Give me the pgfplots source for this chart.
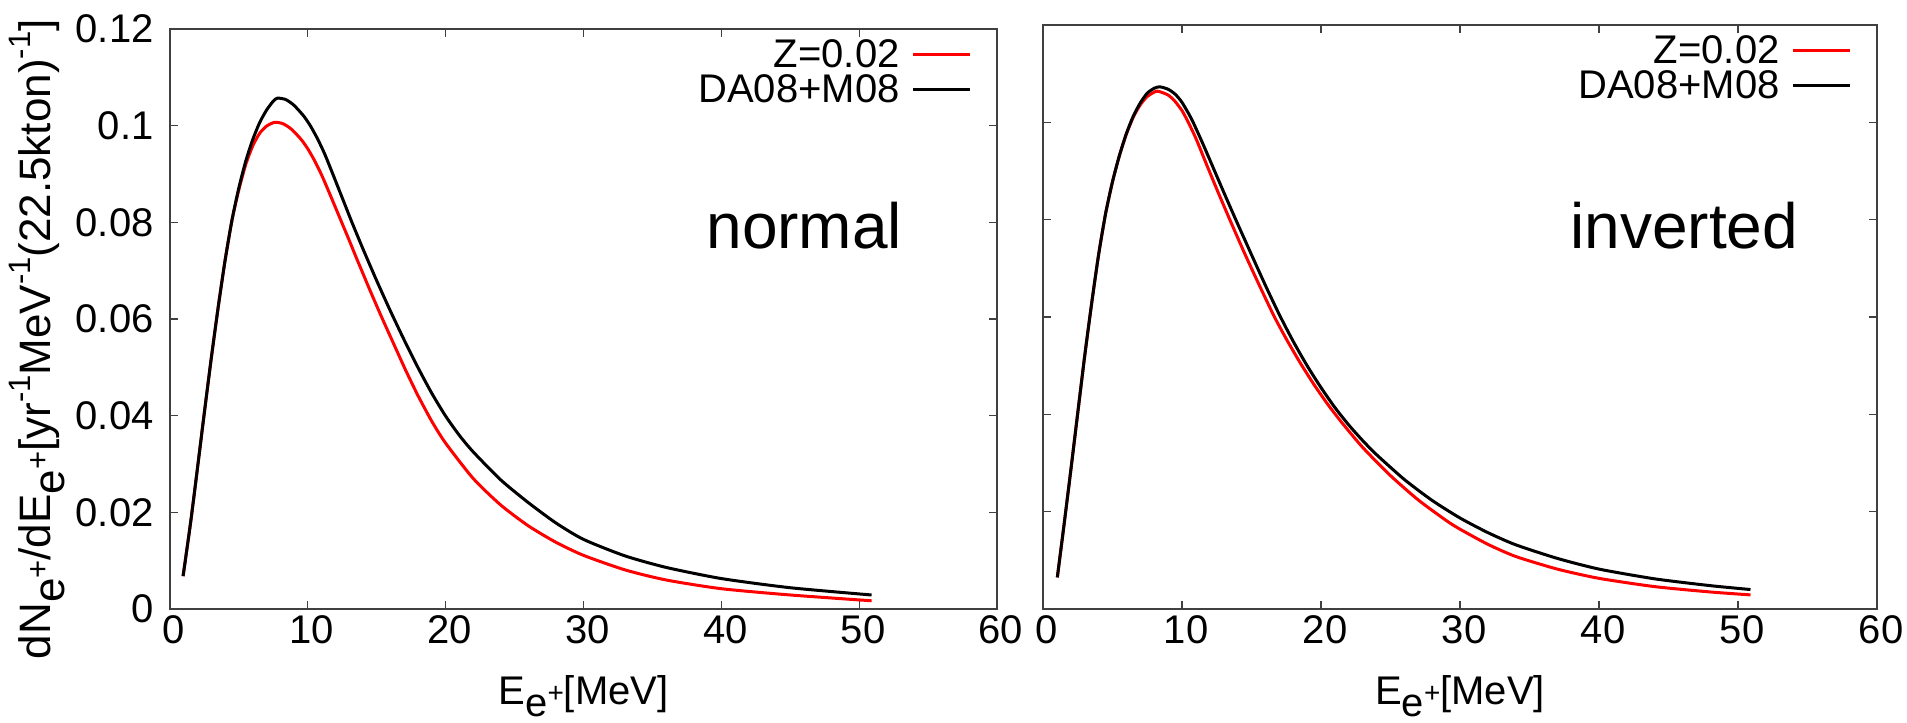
\documentclass[border=0pt]{standalone}
\usepackage{pgfplots}
\pgfplotsset{compat=1.18}
\usepackage{fontspec}
\setmainfont{Liberation Sans}
\newcommand{\ep}{\raisebox{-0.3em}{e\raisebox{0.33em}{\fontsize{14}{14}\selectfont +}}}
\newcommand{\epy}{\raisebox{-0.33em}{e\raisebox{0.36em}{\fontsize{15.5}{15.5}\selectfont +}}}
\newcommand{\sups}[1]{\raisebox{0.45em}{\fontsize{15.5}{15.5}\selectfont #1}}
\pgfplotsset{
  myaxis/.style={
    scale only axis,
    xmin=0, xmax=60, ymin=0, ymax=0.12,
    xtick={0,10,20,30,40,50,60},
    xticklabels={0,10,20,30,40,50,60},
    ytick={0,0.02,0.04,0.06,0.08,0.1,0.12},
    tick align=inside,
    major tick length=4pt,
    axis line style={black!75, line width=0.6pt},
    every tick/.style={black!75, line width=0.6pt},
    ticklabel style={font=\fontsize{20}{24}\selectfont, inner sep=0pt},
    xticklabel style={yshift=-3pt, xshift=2pt},
    yticklabel style={xshift=-8pt},
    label style={font=\fontsize{20}{24}\selectfont},
    legend style={at={(rel axis cs:1,1)}, anchor=north east, xshift=-12.5pt, yshift=-4.5pt,
      draw=none, fill=none, inner sep=0pt, font=\fontsize{20}{24}\selectfont,
      row sep=1pt, column sep=5.5pt, nodes={inner sep=0.5pt}},
    legend cell align=right,
    legend plot pos=right,
    legend image code/.code={\draw[#1] (0pt,0pt) -- (28.5pt,0pt);},
  },
  curve/.style={line width=1.5pt, smooth, tension=0.4, line join=round},
}
\begin{document}
\begin{tikzpicture}
\useasboundingbox (-85pt,-57pt) rectangle (868.5pt,304.5pt);
\begin{axis}[myaxis, width=413.5pt, height=290pt, at={(0pt,0pt)}, anchor=south west,
  yticklabels={0,0.02,0.04,0.06,0.08,0.1,0.12},
  xlabel={E\ep[MeV]},
  xlabel style={at={(axis description cs:0.5,-0.164)}, anchor=base},
  ylabel={dN\epy/dE\epy[yr\sups{-1}MeV\sups{-1}(22.5kton)\sups{-1}]},
  ylabel style={at={(axis description cs:-0.145,0.465)}, anchor=base, font=\fontsize{22}{26}\selectfont},
]
\addplot[curve, red] coordinates {
(0.95,0.0068) (1.5,0.0180) (2.0,0.0293) (2.5,0.0408) (3.0,0.0520) (3.5,0.0625)
(4.0,0.0722) (4.5,0.0805) (5.0,0.0868) (5.5,0.0920) (6.0,0.0958) (6.5,0.0984)
(7.0,0.0999) (7.6,0.1007) (8.2,0.1004) (8.8,0.0993) (9.5,0.0972) (10.0,0.0952)
(10.5,0.0927) (11.0,0.0898) (11.5,0.0865) (12.0,0.0831) (12.5,0.0797) (13.0,0.0763)
(13.5,0.0728) (14.0,0.0694) (14.5,0.0660) (15.0,0.0627) (15.4,0.0601) (16.0,0.0563)
(17.0,0.0500) (17.4,0.0476) (18.0,0.0441) (19.0,0.0388) (20.0,0.0343) (22.0,0.0270)
(24.0,0.0215) (26.0,0.0172) (28.0,0.0138) (30.0,0.0111) (33.0,0.0081) (36.0,0.0060)
(40.0,0.0042) (45.0,0.0029) (50.9,0.0017)};
\addlegendentry{Z=0.02}
\addplot[curve, black] coordinates {
(0.95,0.0068) (1.5,0.0180) (2.0,0.0293) (2.5,0.0408) (3.0,0.0520) (3.5,0.0625)
(4.0,0.0722) (4.5,0.0805) (5.0,0.0872) (5.5,0.0927) (6.0,0.0971) (6.5,0.1006)
(7.0,0.1032) (7.5,0.1051) (7.8,0.1057) (8.4,0.1054) (9.0,0.1042) (9.7,0.1020)
(10.2,0.0999) (10.7,0.0973) (11.2,0.0943) (11.7,0.0908) (12.2,0.0872) (12.7,0.0836)
(13.2,0.0800) (14.0,0.0745) (15.0,0.0679) (16.0,0.0616) (17.0,0.0556) (18.0,0.0499)
(19.0,0.0446) (20.0,0.0399) (21.0,0.0359) (22.0,0.0325) (24.0,0.0267) (26.0,0.0220)
(28.0,0.0178) (30.0,0.0144) (33.0,0.0110) (36.0,0.0086) (40.0,0.0063) (45.0,0.0044)
(50.9,0.0029)};
\addlegendentry{DA08+M08}
\node[anchor=base, font=\fontsize{32}{38}\selectfont] at (rel axis cs:0.767,0.6224) {normal};
\end{axis}
\begin{axis}[myaxis, width=417pt, height=292pt, at={(436.5pt,0pt)}, anchor=south west,
  yticklabels={},
  xlabel={E\ep[MeV]},
  xlabel style={at={(axis description cs:0.5,-0.163)}, anchor=base},
]
\addplot[curve, red] coordinates {
(1.03,0.0065) (1.5,0.0170) (2.0,0.0285) (2.5,0.0403) (3.0,0.0520) (3.5,0.0628)
(4.0,0.0728) (4.5,0.0812) (5.0,0.0878) (5.5,0.0932) (6.0,0.0976) (6.5,0.1011)
(7.0,0.1036) (7.5,0.1053) (8.2,0.1064) (9.0,0.1056) (9.5,0.1043) (10.0,0.1024)
(10.4,0.1003) (11.0,0.0967) (11.8,0.0911) (12.6,0.0856) (13.5,0.0796) (14.5,0.0731)
(15.5,0.0669) (16.6,0.0603) (17.5,0.0555) (18.5,0.0506) (19.5,0.0461) (20.5,0.0420)
(21.5,0.0383) (23.0,0.0332) (25.0,0.0274) (27.0,0.0224) (29.0,0.0182) (30.0,0.0164)
(32.0,0.0133) (34.0,0.0108) (37.0,0.0082) (40.0,0.0063) (44.0,0.0046) (48.0,0.0035)
(50.9,0.0029)};
\addlegendentry{Z=0.02}
\addplot[curve, black] coordinates {
(1.03,0.0065) (1.5,0.0170) (2.0,0.0285) (2.5,0.0403) (3.0,0.0520) (3.5,0.0628)
(4.0,0.0728) (4.5,0.0812) (5.0,0.0878) (5.5,0.0932) (6.0,0.0977) (6.5,0.1013)
(7.0,0.1040) (7.5,0.1060) (8.0,0.1070) (8.4,0.1073) (9.0,0.1068) (9.5,0.1058)
(10.0,0.1041) (10.7,0.1006) (11.5,0.0956) (12.3,0.0903) (13.1,0.0850) (13.9,0.0798)
(15.0,0.0728) (16.0,0.0665) (17.0,0.0605) (18.0,0.0550) (19.0,0.0500) (20.0,0.0455)
(21.0,0.0414) (22.0,0.0378) (23.0,0.0346) (24.0,0.0317) (26.0,0.0266) (28.0,0.0223)
(30.0,0.0187) (32.0,0.0157) (34.0,0.0132) (37.0,0.0104) (40.0,0.0082) (44.0,0.0062)
(48.0,0.0048) (50.9,0.0040)};
\addlegendentry{DA08+M08}
\node[anchor=base, font=\fontsize{32}{38}\selectfont] at (rel axis cs:0.769,0.618) {inverted};
\end{axis}
\end{tikzpicture}
\end{document}
